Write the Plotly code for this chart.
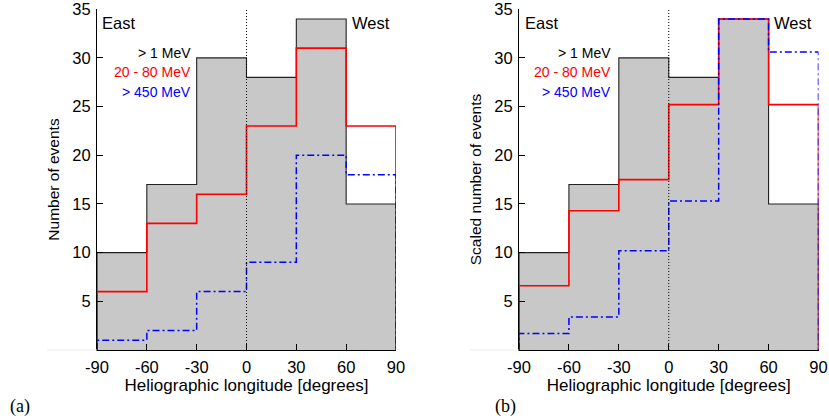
import plotly.graph_objects as go

# ---- data ----
edges = [-90, -60, -30, 0, 30, 60, 90]
tick_labels = ["-90", "-60", "-30", "0", "30", "60", "90"]
y_ticks = [5, 10, 15, 20, 25, 30, 35]
y_tick_labels = ["5", "10", "15", "20", "25", "30", "35"]

# panel (a): number of events
a_1mev = [10, 17, 30, 28, 34, 15]
a_20_80 = [6, 13, 16, 23, 31, 23]
a_450 = [1, 2, 6, 9, 20, 18]

# panel (b): scaled number of events
b_1mev = [10, 17, 30, 28, 34, 15]
b_20_80 = [6.6, 14.3, 17.5, 25.2, 34.0, 25.2]
b_450 = [1.7, 3.4, 10.2, 15.3, 34.0, 30.6]

series_names = ["> 1 MeV", "20 - 80 MeV", "> 450 MeV"]
series_colors = ["#000000", "#ff0000", "#0000ff"]

FONT = "Liberation Sans, Arial, Helvetica, sans-serif"
W, H = 829, 418


def step_xy(vals):
    xs = [edges[0]] + edges[:-1] + [edges[-1], edges[-1]]
    ys = [0] + list(vals) + [vals[-1], 0]
    return xs, ys


fig = go.Figure()

for col, (v1, v2, v3) in enumerate([(a_1mev, a_20_80, a_450), (b_1mev, b_20_80, b_450)]):
    xa = "x" if col == 0 else "x2"
    ya = "y" if col == 0 else "y2"
    x, y = step_xy(v1)
    fig.add_trace(go.Scatter(x=x, y=y, mode="lines", line_shape="hv",
                             fill="tozeroy", fillcolor="#c8c8c8",
                             line=dict(color="#222222", width=1.1),
                             xaxis=xa, yaxis=ya, showlegend=False, hoverinfo="skip"))
    x, y = step_xy(v2)
    fig.add_trace(go.Scatter(x=x, y=y, mode="lines", line_shape="hv",
                             line=dict(color=series_colors[1], width=1.6),
                             xaxis=xa, yaxis=ya, showlegend=False, hoverinfo="skip"))
    x, y = step_xy(v3)
    fig.add_trace(go.Scatter(x=x, y=y, mode="lines", line_shape="hv",
                             line=dict(color=series_colors[2], width=1.5, dash="7px,3px,2px,3px"),
                             xaxis=xa, yaxis=ya, showlegend=False, hoverinfo="skip"))

# domains
xd1 = [97 / W, 396 / W]
xd2 = [519 / W, 818.5 / W]
yd = [1 - 350 / H, 1 - 9 / H]

common_x = dict(range=[-90, 90], tickmode="array", tickvals=edges, ticktext=tick_labels,
                ticks="inside", ticklen=6, tickcolor="#000", showline=True, linecolor="#000",
                linewidth=1, showgrid=False, zeroline=False, mirror=False, automargin=False,
                tickfont=dict(family=FONT, size=16.5, color="#000"), ticklabelstandoff=2,
                title=dict(text="Heliographic longitude [degrees]",
                           font=dict(family=FONT, size=17, color="#000"), standoff=3))
common_y = dict(range=[0, 35.02], tickmode="array", tickvals=y_ticks, ticktext=y_tick_labels,
                ticks="inside", ticklen=6, tickcolor="#000", showline=True, linecolor="#000",
                linewidth=1, showgrid=False, zeroline=False, automargin=False,
                ticklabeloverflow="allow",
                tickfont=dict(family=FONT, size=16.5, color="#000"), ticklabelstandoff=2)

fig.update_layout(
    width=W, height=H, margin=dict(l=0, r=0, t=0, b=0),
    paper_bgcolor="white", plot_bgcolor="rgba(0,0,0,0)",
    xaxis=dict(domain=xd1, anchor="y", **common_x),
    xaxis2=dict(domain=xd2, anchor="y2", **common_x),
    yaxis=dict(domain=yd, anchor="x", **common_y,
               title=dict(text="Number of events", font=dict(family=FONT, size=15.5, color="#000"), standoff=8)),
    yaxis2=dict(domain=yd, anchor="x2", **common_y,
                title=dict(text="Scaled number of events", font=dict(family=FONT, size=15.5, color="#000"), standoff=8)),
)

shapes = []
annotations = []
for xa, ya, east_x, west_x, leg_x, lab, lab_x, faint0, dom in [
        ("x", "y", -88.2, 87.6, -32.2, "(a)", 20 / W, 47 / W, xd1),
        ("x2", "y2", -87.6, 87.4, -33.5, "(b)", 506 / W, 470 / W, xd2)]:
    # dotted zero-longitude line
    shapes.append(dict(type="line", xref=xa, yref=ya, x0=0, x1=0, y0=0, y1=35,
                       line=dict(color="#000", width=1, dash="1px,2px")))
    # faint baseline extension to the left of the axes
    shapes.append(dict(type="line", xref="paper", yref="paper", x0=faint0, x1=dom[0],
                       y0=yd[0], y1=yd[0], line=dict(color="#ececec", width=1)))
    annotations.append(dict(xref=xa, yref=ya, x=east_x, y=33.6, text="East", showarrow=False,
                            xanchor="left", yanchor="middle", font=dict(family=FONT, size=16.5, color="#000")))
    annotations.append(dict(xref=xa, yref=ya, x=west_x, y=33.6, text="West", showarrow=False,
                            xanchor="right", yanchor="middle", font=dict(family=FONT, size=16.5, color="#000")))
    for i, (nm, c) in enumerate(zip(series_names, series_colors)):
        annotations.append(dict(xref=xa, yref=ya, x=leg_x, y=30.5 - 2.0 * i, text=nm, showarrow=False,
                                xanchor="right", yanchor="middle", font=dict(family=FONT, size=14, color=c)))
    annotations.append(dict(xref="paper", yref="paper", x=lab_x, y=1 - 406 / H, text=lab, showarrow=False,
                            xanchor="center", yanchor="middle",
                            font=dict(family="Liberation Serif, DejaVu Serif, serif", size=18, color="#000")))

fig.update_layout(shapes=shapes, annotations=annotations)
fig.write_html("out.html")
